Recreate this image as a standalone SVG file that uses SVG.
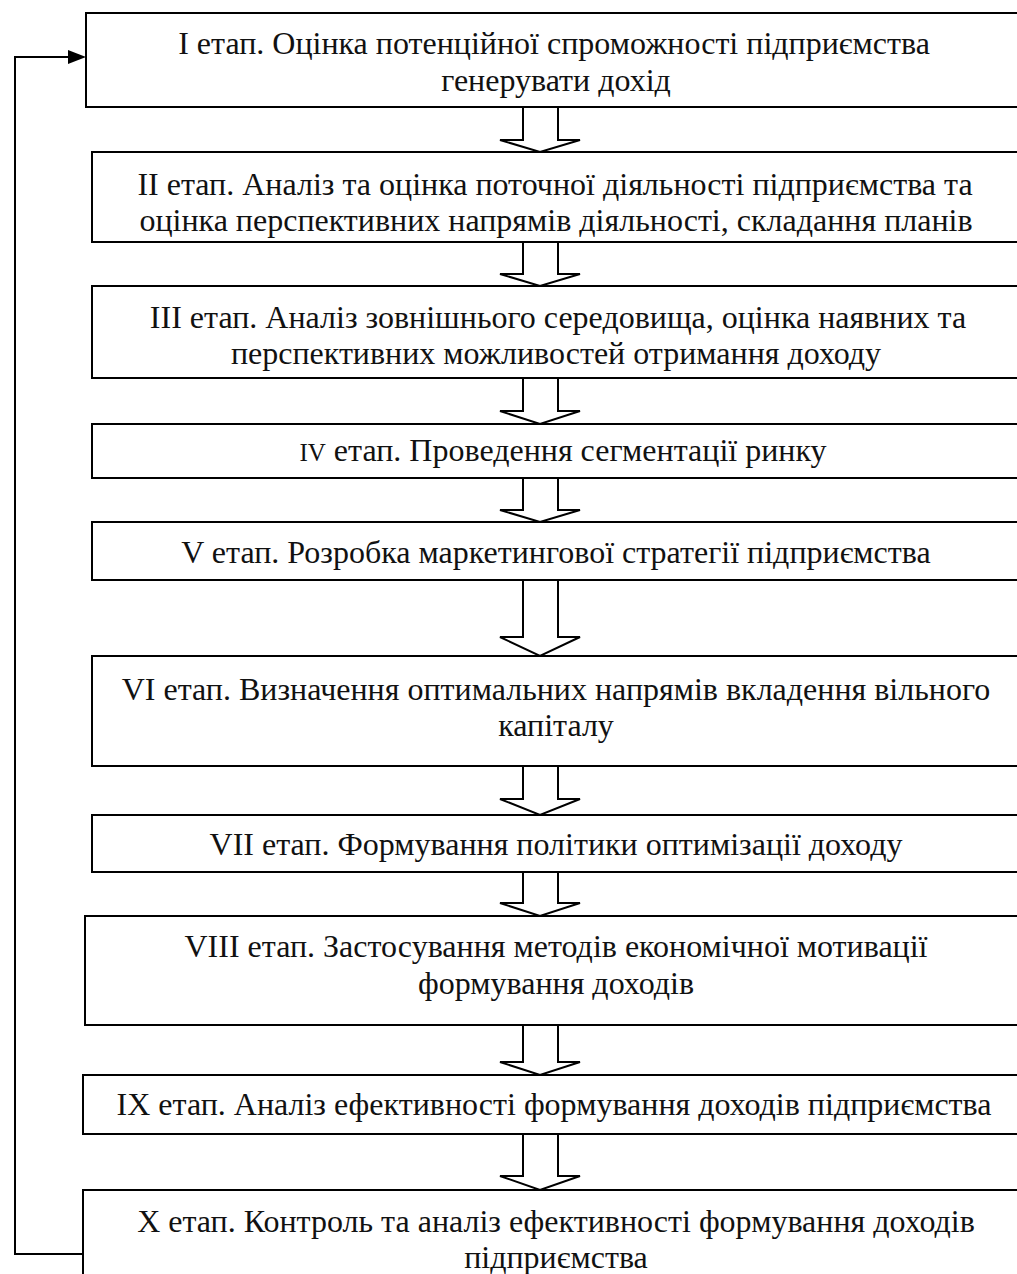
<svg xmlns="http://www.w3.org/2000/svg" width="1017" height="1274" viewBox="0 0 1017 1274">
<defs>
<style>
.box{fill:#fff;stroke:#000;stroke-width:2}
.blk{fill:#fff;stroke:#000;stroke-width:2;stroke-linejoin:miter}
.ln{fill:none;stroke:#000;stroke-width:2}
text{font-family:"Liberation Serif","Times New Roman",serif;font-size:32px;fill:#111;text-anchor:middle}
.sm{font-size:25px}
</style>
</defs>
<g id="connectors">
<polyline class="ln" points="83,1254 15,1254 15,57 70,57"/>
<path d="M68,50 L86,57 L68,64 z" fill="#000"/>
<path class="blk" d="M523,107 L558,107 L558,140 L580,140 L540,152 L500,140 L523,140 z"/>
<path class="blk" d="M523,242 L558,242 L558,274 L580,274 L540,286 L500,274 L523,274 z"/>
<path class="blk" d="M523,378 L558,378 L558,411 L580,411 L540,424 L500,411 L523,411 z"/>
<path class="blk" d="M523,478 L558,478 L558,510 L580,510 L540,522 L500,510 L523,510 z"/>
<path class="blk" d="M523,580 L558,580 L558,637 L580,637 L540,656 L500,637 L523,637 z"/>
<path class="blk" d="M523,766 L558,766 L558,799 L580,799 L540,815 L500,799 L523,799 z"/>
<path class="blk" d="M523,872 L558,872 L558,903 L580,903 L540,916 L500,903 L523,903 z"/>
<path class="blk" d="M523,1025 L558,1025 L558,1062 L580,1062 L540,1075 L500,1062 L523,1062 z"/>
<path class="blk" d="M523,1134 L558,1134 L558,1176 L580,1176 L540,1190 L500,1176 L523,1176 z"/>
</g>
<g id="n1"><rect class="box" x="86" y="13" width="960" height="94"/>
<text x="554" y="54">I етап. Оцінка потенційної спроможності підприємства</text>
<text x="556" y="91">генерувати дохід</text></g>
<g id="n2"><rect class="box" x="92" y="152" width="960" height="90"/>
<text x="555" y="195">II етап. Аналіз та оцінка поточної діяльності підприємства та</text>
<text x="556" y="231">оцінка перспективних напрямів діяльності, складання планів</text></g>
<g id="n3"><rect class="box" x="92" y="286" width="960" height="92"/>
<text x="558" y="328">III етап. Аналіз зовнішнього середовища, оцінка наявних та</text>
<text x="556" y="364">перспективних можливостей отримання доходу</text></g>
<g id="n4"><rect class="box" x="92" y="424" width="960" height="54"/>
<text x="563" y="461"><tspan class="sm">IV</tspan> етап. Проведення сегментації ринку</text></g>
<g id="n5"><rect class="box" x="92" y="522" width="960" height="58"/>
<text x="556" y="563">V етап. Розробка маркетингової стратегії підприємства</text></g>
<g id="n6"><rect class="box" x="92" y="656" width="960" height="110"/>
<text x="556" y="700">VI етап. Визначення оптимальних напрямів вкладення вільного</text>
<text x="556" y="736">капіталу</text></g>
<g id="n7"><rect class="box" x="92" y="815" width="960" height="57"/>
<text x="556" y="855">VII етап. Формування політики оптимізації доходу</text></g>
<g id="n8"><rect class="box" x="85" y="916" width="960" height="109"/>
<text x="556" y="957">VIII етап. Застосування методів економічної мотивації</text>
<text x="556" y="994">формування доходів</text></g>
<g id="n9"><rect class="box" x="83" y="1075" width="960" height="59"/>
<text x="554" y="1115">IX етап. Аналіз ефективності формування доходів підприємства</text></g>
<g id="n10"><rect class="box" x="83" y="1190" width="960" height="110"/>
<text x="556" y="1232">X етап. Контроль та аналіз ефективності формування доходів</text>
<text x="556" y="1268">підприємства</text></g>
</svg>
